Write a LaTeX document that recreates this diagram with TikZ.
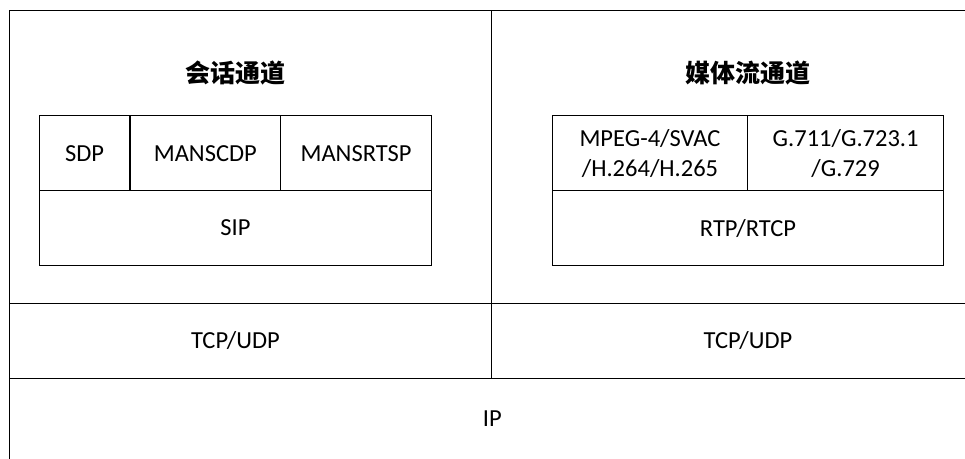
\documentclass[tikz,border=0pt]{standalone}
\usepackage{fontspec}
\setmainfont{Carlito}
\newfontfamily\cjk{Noto Sans CJK SC}
\usetikzlibrary{positioning}
\begin{document}
\begin{tikzpicture}[
    x=1pt, y=-1pt,
    line width=1.3pt,
    every node/.style={font=\fontsize{24.5}{30}\selectfont, inner sep=0pt, outer sep=0pt},
    cell/.style={draw, rectangle, anchor=north west},
    title/.style={font=\cjk\bfseries\fontsize{25}{30}\selectfont}
]
\clip (0,0) rectangle (965,458);

\node[cell, minimum width=482.2, minimum height=292.8] (sess) at (9.5,10.5) {};
\node[cell, minimum width=483.3, minimum height=292.8, right=0pt of sess] (media) {};
\node[cell, minimum width=482.2, minimum height=75, below=0pt of sess] (tcpl) {};
\node[cell, minimum width=483.3, minimum height=75, below=0pt of media] (tcpr) {};
\node[cell, minimum width=965.5, minimum height=81, anchor=north west] (ip) at (tcpl.south west) {IP};

\node[cell, minimum width=90.7, minimum height=75] (sdp) at (39.3,115.7) {SDP};
\node[cell, minimum width=150.7, minimum height=75, right=0pt of sdp] (manscdp) {MANSCDP};
\node[cell, minimum width=150.8, minimum height=75, right=0pt of manscdp] (mansrtsp) {MANSRTSP};
\node[cell, minimum width=392.2, minimum height=74.5] (sip) at (sdp.south west) {SIP};

\node[cell, minimum width=195.4, minimum height=75, align=center] (mpeg) at (552.3,115.7) {MPEG-4/SVAC\\/H.264/H.265};
\node[cell, minimum width=195.9, minimum height=75, align=center, right=0pt of mpeg] (gcodec) {G.711/G.723.1\\/G.729};
\node[cell, minimum width=391.3, minimum height=74.7] (rtp) at (mpeg.south west) {RTP/RTCP};

\node[title] (sesstitle) at (235.4,73) {会话通道};
\node[title] (mediatitle) at (748,73) {媒体流通道};

\node (tcpltext) at (sip.center |- tcpl.center) {TCP/UDP};
\node (tcprtext) at (rtp.center |- tcpr.center) {TCP/UDP};
\end{tikzpicture}
\end{document}
